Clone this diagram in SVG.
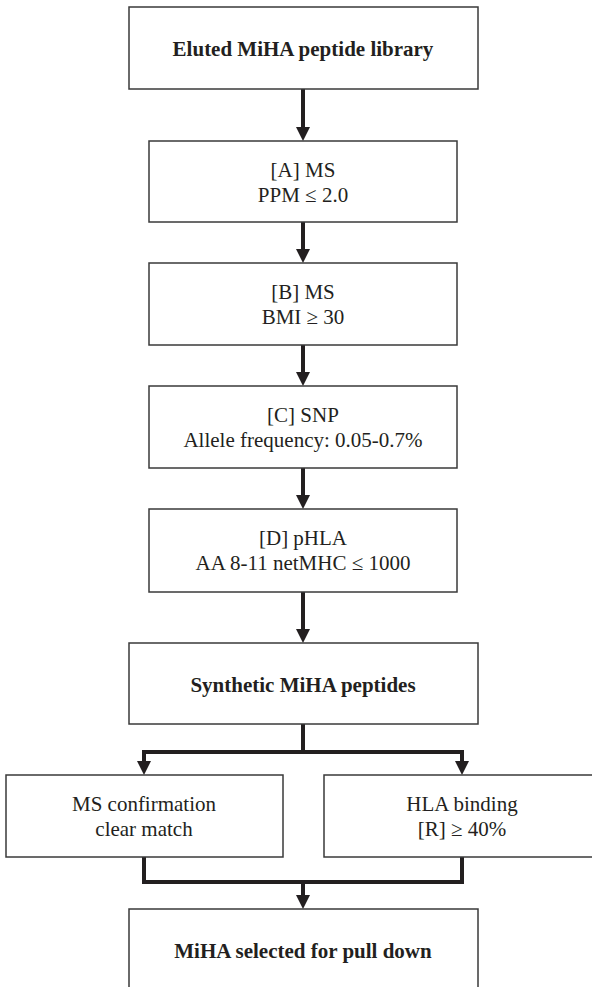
<svg xmlns="http://www.w3.org/2000/svg" width="592" height="987" viewBox="0 0 592 987">
<style>
.box{fill:#fff;stroke:#3a3a3a;stroke-width:1.5}
.t{font-family:"Liberation Serif","Times New Roman",serif;font-size:21px;fill:#231f20;text-anchor:middle}
.b{font-weight:bold}
.c{fill:none;stroke:#231f20;stroke-width:4}
</style>
<defs>
<marker id="ah" markerUnits="userSpaceOnUse" markerWidth="16" markerHeight="14" refX="8" refY="13" orient="auto-start-reverse" viewBox="0 0 16 14">
<path d="M1,0 L15,0 L8,14 Z" fill="#231f20"/>
</marker>
</defs>
<rect width="592" height="987" fill="#fff"/>
<g id="connectors">
<line class="c" x1="303" y1="89" x2="303" y2="128"/><path d="M296,127 L310,127 L303,141 Z" fill="#231f20"/>
<line class="c" x1="303" y1="222" x2="303" y2="250"/><path d="M296,249 L310,249 L303,263 Z" fill="#231f20"/>
<line class="c" x1="303" y1="345" x2="303" y2="373"/><path d="M296,372 L310,372 L303,386 Z" fill="#231f20"/>
<line class="c" x1="303" y1="468" x2="303" y2="496"/><path d="M296,495 L310,495 L303,509 Z" fill="#231f20"/>
<line class="c" x1="303" y1="592" x2="303" y2="630"/><path d="M296,629 L310,629 L303,643 Z" fill="#231f20"/>
<polyline class="c" points="303,724 303,752"/>
<polyline class="c" points="144,763 144,752 462,752 462,763"/>
<path d="M137,761 L151,761 L144,775 Z" fill="#231f20"/>
<path d="M455,761 L469,761 L462,775 Z" fill="#231f20"/>
<polyline class="c" points="144,857 144,882 462,882 462,857"/>
<line class="c" x1="303" y1="882" x2="303" y2="896"/><path d="M296,895 L310,895 L303,909 Z" fill="#231f20"/>
</g>
<g id="n0"><rect class="box" x="129" y="7" width="349" height="82"/><text class="t b" x="303" y="56">Eluted MiHA peptide library</text></g>
<g id="nA"><rect class="box" x="149" y="141" width="308" height="81"/><text class="t" x="303" y="177">[A] MS</text><text class="t" x="303" y="202">PPM ≤ 2.0</text></g>
<g id="nB"><rect class="box" x="149" y="263" width="308" height="82"/><text class="t" x="303" y="299">[B] MS</text><text class="t" x="303" y="324">BMI ≥ 30</text></g>
<g id="nC"><rect class="box" x="149" y="386" width="308" height="82"/><text class="t" x="303" y="422">[C] SNP</text><text class="t" x="303" y="447">Allele frequency: 0.05-0.7%</text></g>
<g id="nD"><rect class="box" x="149" y="509" width="308" height="83"/><text class="t" x="303" y="545">[D] pHLA</text><text class="t" x="303" y="570">AA 8-11 netMHC ≤ 1000</text></g>
<g id="nS"><rect class="box" x="129" y="643" width="349" height="81"/><text class="t b" x="303" y="692">Synthetic MiHA peptides</text></g>
<g id="nMS"><rect class="box" x="6" y="775" width="277" height="82"/><text class="t" x="144" y="811">MS confirmation</text><text class="t" x="144" y="836">clear match</text></g>
<g id="nHLA"><rect class="box" x="324" y="775" width="280" height="82"/><text class="t" x="462" y="811">HLA binding</text><text class="t" x="462" y="836">[R] ≥ 40%</text></g>
<g id="nF"><rect class="box" x="129" y="909" width="349" height="90"/><text class="t b" x="303" y="958">MiHA selected for pull down</text></g>
</svg>
